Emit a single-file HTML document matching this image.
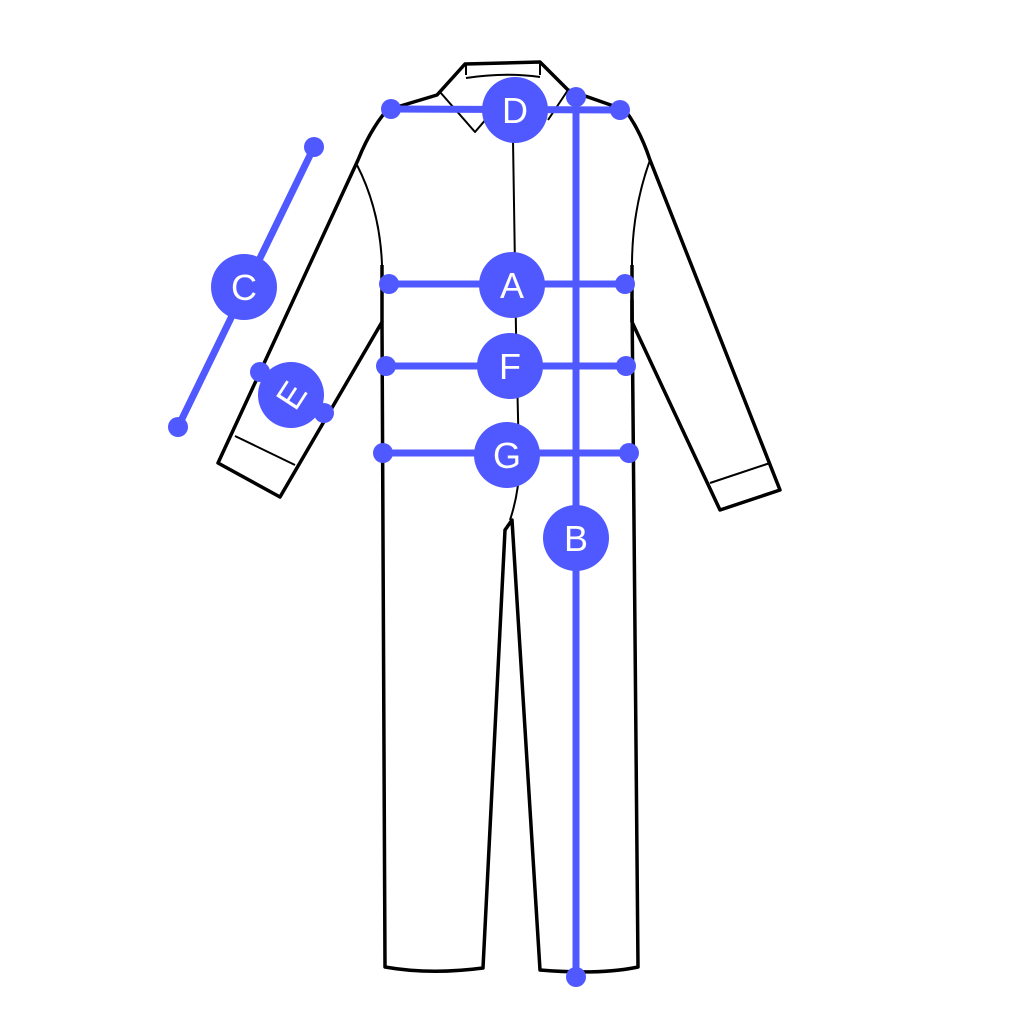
<!DOCTYPE html>
<html><head><style>html,body{margin:0;padding:0;background:#fff}</style></head><body>
<svg width="1020" height="1020" viewBox="0 0 1020 1020" xmlns="http://www.w3.org/2000/svg">
<g fill="none" stroke="#000" stroke-linejoin="round">
<path stroke-width="3.5" d="M437,95 L465,64 L540,62 L568,90 L625,110 Q640,130 650,160 L780,490 L720,510 L632,322 L632,300 L638,967 Q600,975 540,970 L512,520 L505,530 L483,968 Q430,975 385,967 L382,322 L280,497 L218,463 L358,160 Q370,130 387,110 Z"/>
<path stroke-width="2" d="M357,165 Q380,210 382,265 M650,160 Q632,210 632,265 M235,436 L295,465 M710,483 L770,463 M513,140 L516,330 L519,460 Q520,490 510,520 M466,75 L466,65 M540,75 L540,64 M466,78 Q505,72 540,77 M440,92 L475,132 L487,118 M568,90 L548,120"/>
<path stroke-width="3.5" d="M382,265 L382,322 M632,265 L632,322"/>
</g>
<g stroke="#5058FF" stroke-width="7" fill="#5058FF">
<line x1="391" y1="109" x2="620" y2="110"/>
<line x1="576" y1="97" x2="576" y2="977"/>
<line x1="389" y1="284" x2="625" y2="284"/>
<line x1="386" y1="366" x2="626" y2="366"/>
<line x1="383" y1="453" x2="629" y2="453"/>
<line x1="314" y1="147" x2="178" y2="427"/>
<line x1="260" y1="372" x2="324" y2="413"/>
</g>
<g fill="#5058FF">
<circle cx="391" cy="109" r="10"/><circle cx="620" cy="110" r="10"/>
<circle cx="576" cy="97" r="10"/><circle cx="576" cy="977" r="10"/>
<circle cx="389" cy="284" r="10"/><circle cx="625" cy="284" r="10"/>
<circle cx="386" cy="366" r="10"/><circle cx="626" cy="366" r="10"/>
<circle cx="383" cy="453" r="10"/><circle cx="629" cy="453" r="10"/>
<circle cx="314" cy="147" r="10"/><circle cx="178" cy="427" r="10"/>
<circle cx="260" cy="372" r="10"/><circle cx="324" cy="413" r="10"/>
<circle cx="515" cy="110" r="33"/><circle cx="576" cy="538" r="33"/>
<circle cx="512" cy="285" r="33"/><circle cx="510" cy="366" r="33"/>
<circle cx="507" cy="455" r="33"/><circle cx="244" cy="287" r="33"/>
<circle cx="291" cy="395" r="33"/>
</g>
<g fill="#fff" font-family="Liberation Sans, sans-serif" font-size="36" text-anchor="middle">
<text x="515" y="123">D</text><text x="576" y="551">B</text>
<text x="512" y="298">A</text><text x="510" y="379">F</text>
<text x="507" y="468">G</text><text x="244" y="300">C</text>
<text x="0" y="13" transform="translate(291,395) rotate(-57)">E</text>
</g>
</svg>
</body></html>
